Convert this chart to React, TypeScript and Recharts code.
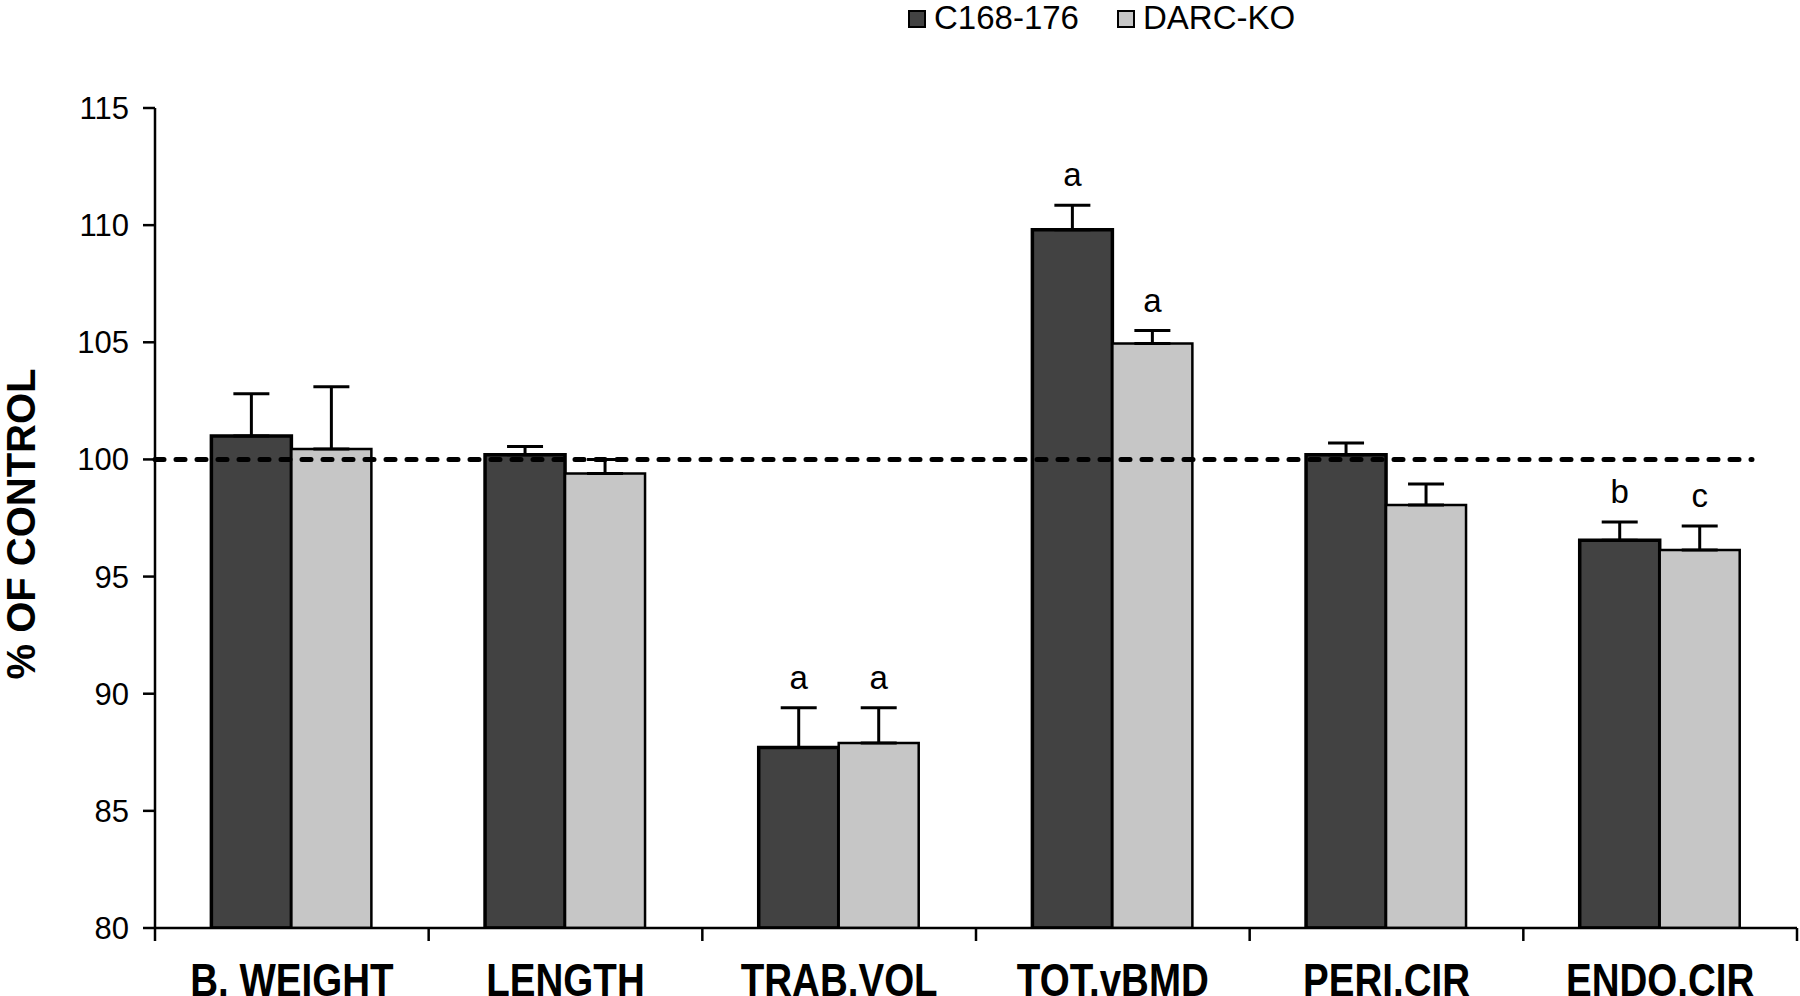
import React from 'react';
import {
  BarChart,
  Bar,
  XAxis,
  YAxis,
  ErrorBar,
  ReferenceLine,
  Legend,
  LabelList,
} from 'recharts';

// Bone parameters relative to control mice (% of control)
const categories = ['B. WEIGHT', 'LENGTH', 'TRAB.VOL', 'TOT.vBMD', 'PERI.CIR', 'ENDO.CIR'];
const c168Values = [101.0, 100.2, 87.7, 109.8, 100.2, 96.55];
const c168Errors = [1.8, 0.35, 1.7, 1.05, 0.5, 0.78];
const c168Marks = ['', '', 'a', 'a', '', 'b'];
const darcValues = [100.45, 99.4, 87.9, 104.95, 98.05, 96.13];
const darcErrors = [2.65, 0.6, 1.5, 0.55, 0.9, 1.03];
const darcMarks = ['', '', 'a', 'a', '', 'c'];
const yTicks = [80, 85, 90, 95, 100, 105, 110, 115];

const data = categories.map((name, i) => ({
  name,
  c168: c168Values[i],
  c168Err: [0, c168Errors[i]],
  darc: darcValues[i],
  darcErr: [0, darcErrors[i]],
}));

const W = 1800;
const H = 996;
const LEGEND_H = 40;
const MARGIN = { top: 108 - LEGEND_H, right: 3, bottom: 8, left: 75 };
const Y_AXIS_W = 80;
const X_AXIS_H = 60;
const PLOT_LEFT = MARGIN.left + Y_AXIS_W;
const PLOT_RIGHT = W - MARGIN.right;
const BAND = (PLOT_RIGHT - PLOT_LEFT) / categories.length;

const DARK = '#424242';
const LIGHT = '#c6c6c6';
const FONT = "'Liberation Sans', Arial, Helvetica, sans-serif";

// Category label: heavy condensed caps with boundary tick marks
const CategoryTick = (props: any) => {
  const { x, y, payload, index } = props;
  const left = x - BAND / 2;
  const right = x + BAND / 2;
  return (
    <g>
      <line x1={left} y1={y} x2={left} y2={y + 13} stroke="#000" strokeWidth={2.5} />
      {index === categories.length - 1 && (
        <line x1={right} y1={y} x2={right} y2={y + 13} stroke="#000" strokeWidth={2.5} />
      )}
      <text
        transform={`translate(${x},${y + 68}) scale(0.82,1)`}
        textAnchor="middle"
        fontFamily={FONT}
        fontWeight="bold"
        fontSize={47}
        fill="#000"
      >
        {payload.value}
      </text>
    </g>
  );
};

// Significance letter placed above the top of each error bar
const makeMarkLabel = (values: number[], errors: number[], marks: string[]) => (props: any) => {
  const { x, y, width, height, index } = props;
  const mark = marks[index];
  if (!mark) return null;
  const perUnit = height / (values[index] - 80);
  const errTop = y - errors[index] * perUnit;
  return (
    <text
      x={x + width / 2}
      y={errTop - 19}
      textAnchor="middle"
      fontFamily={FONT}
      fontSize={33}
      fill="#000"
    >
      {mark}
    </text>
  );
};

const DashedLevel = (props: any) => {
  const { x1, y1, x2, y2 } = props;
  return (
    <line
      x1={x1}
      y1={y1}
      x2={x2 - 45}
      y2={y2}
      stroke="#000"
      strokeWidth={5}
      strokeDasharray="9 12"
      strokeLinecap="round"
    />
  );
};

const LegendBox = (props: any) => {
  const items = props.payload || [];
  const lefts = [908, 1117];
  return (
    <div style={{ position: 'relative', width: W, height: LEGEND_H }}>
      {items.map((item: any, i: number) => (
        <div
          key={item.value}
          style={{
            position: 'absolute',
            left: lefts[i],
            top: 0,
            display: 'flex',
            alignItems: 'center',
            fontFamily: FONT,
            fontSize: 33,
            lineHeight: '36px',
            color: '#000',
          }}
        >
          <span
            style={{
              display: 'inline-block',
              width: 14,
              height: 14,
              background: item.color,
              border: '2px solid #000',
              marginRight: 8,
              marginTop: 2,
            }}
          />
          <span>{item.value}</span>
        </div>
      ))}
    </div>
  );
};

const YTitle = () => (
  <text
    transform="translate(35,524) rotate(-90)"
    textAnchor="middle"
    fontFamily={FONT}
    fontWeight="bold"
    fontSize={40}
    fill="#000"
  >
    % OF CONTROL
  </text>
);

export default function App() {
  return (
    <div style={{ position: 'absolute', left: 0, top: 0, width: W, height: H, background: '#fff' }}>
      <BarChart
        width={W}
        height={H}
        data={data}
        margin={MARGIN}
        barCategoryGap="20.6%"
        barGap={0}
      >
        <Legend
          verticalAlign="top"
          align="left"
          height={LEGEND_H}
          content={<LegendBox />}
          wrapperStyle={{ position: 'absolute', top: 0, left: 0, width: W, height: LEGEND_H }}
        />
        <XAxis
          dataKey="name"
          height={X_AXIS_H}
          tickLine={false}
          tickSize={0}
          tickMargin={0}
          axisLine={{ stroke: '#000', strokeWidth: 2.5 }}
          tick={<CategoryTick />}
          interval={0}
        />
        <YAxis
          type="number"
          domain={[80, 115]}
          ticks={yTicks}
          width={Y_AXIS_W}
          tickSize={12}
          tickMargin={14}
          allowDataOverflow
          axisLine={{ stroke: '#000', strokeWidth: 2.5 }}
          tickLine={{ stroke: '#000', strokeWidth: 2.5 }}
          tick={{ fill: '#000', fontSize: 31, fontFamily: FONT }}
          label={<YTitle />}
        />
        <Bar
          dataKey="c168"
          name="C168-176"
          fill={DARK}
          stroke="#000"
          strokeWidth={3.5}
          isAnimationActive={false}
        >
          <ErrorBar dataKey="c168Err" width={18} stroke="#000" strokeWidth={3} direction="y" />
          <LabelList dataKey="c168" content={makeMarkLabel(c168Values, c168Errors, c168Marks)} />
        </Bar>
        <Bar
          dataKey="darc"
          name="DARC-KO"
          fill={LIGHT}
          stroke="#000"
          strokeWidth={2.5}
          isAnimationActive={false}
        >
          <ErrorBar dataKey="darcErr" width={18} stroke="#000" strokeWidth={3} direction="y" />
          <LabelList dataKey="darc" content={makeMarkLabel(darcValues, darcErrors, darcMarks)} />
        </Bar>
        <ReferenceLine y={100} shape={<DashedLevel />} ifOverflow="extendDomain" />
      </BarChart>
    </div>
  );
}
